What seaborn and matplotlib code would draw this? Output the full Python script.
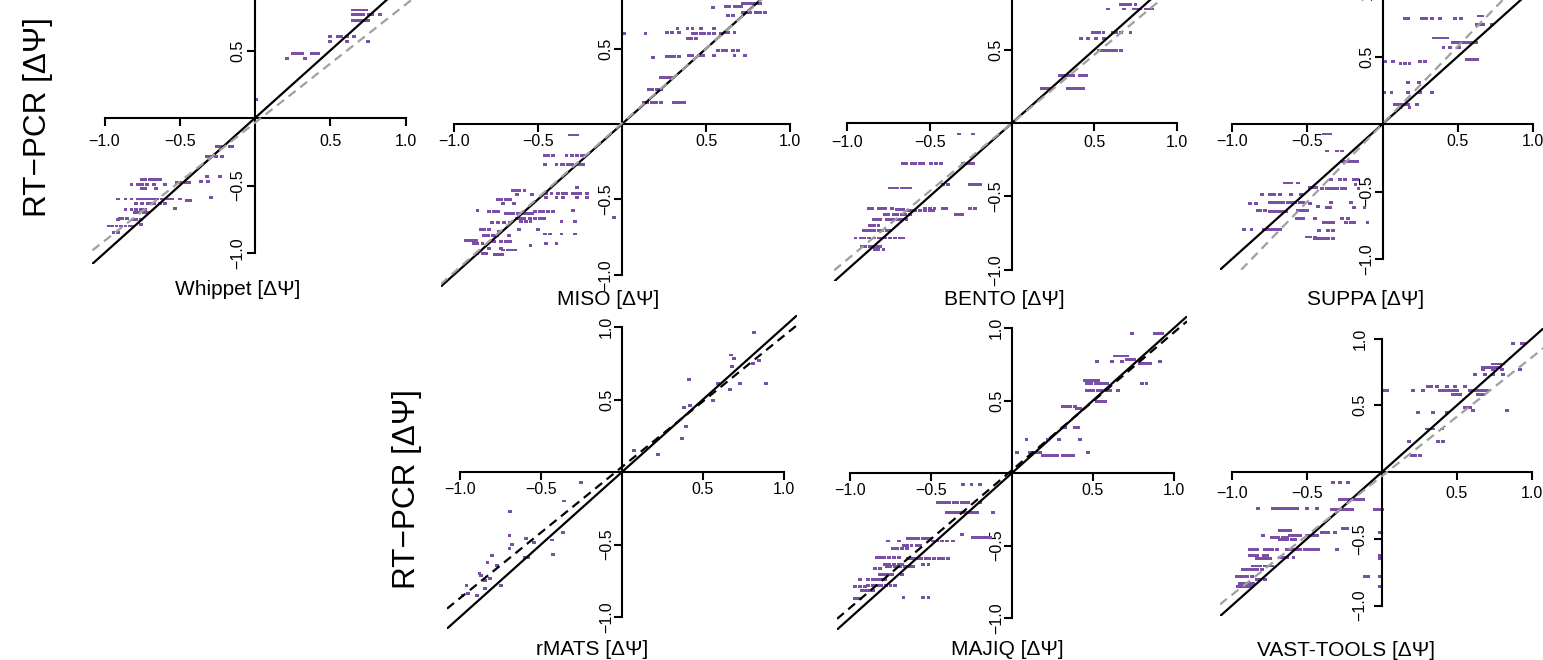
import matplotlib
matplotlib.use("Agg")
import matplotlib.pyplot as plt
from matplotlib.path import Path
from matplotlib.markers import MarkerStyle
import pandas as pd
import seaborn as sns

# ---------------------------------------------------------------------------
# Data: RT-PCR dPSI (y) against each tool's dPSI (x).
# Rows are grouped by RT-PCR value: (y, [x values measured at that y]).
# ---------------------------------------------------------------------------
whippet_rows = [
    (0.80, [0.65, 0.67, 0.69, 0.72, 0.74]),
    (0.765, [0.65, 0.67, 0.70, 0.72, 0.76, 0.78, 0.83]),
    (0.72, [0.65, 0.67, 0.69, 0.71, 0.73, 0.75]),
    (0.605, [0.50, 0.55, 0.57, 0.61, 0.66]),
    (0.57, [0.50, 0.61, 0.75]),
    (0.48, [0.25, 0.27, 0.29, 0.31, 0.38, 0.40, 0.42]),
    (0.44, [0.215, 0.33]),
    (0.14, [0.01]),
    (-0.21, [-0.25, -0.23, -0.21, -0.17, -0.15]),
    (-0.285, [-0.32, -0.30, -0.26, -0.22]),
    (-0.43, [-0.32, -0.23]),
    (-0.47, [-0.36, -0.31]),
    (-0.48, [-0.52, -0.50, -0.46, -0.44]),
    (-0.455, [-0.75, -0.73, -0.70, -0.68, -0.65, -0.63]),
    (-0.49, [-0.82, -0.78, -0.75, -0.72, -0.67, -0.60]),
    (-0.52, [-0.75, -0.73, -0.66]),
    (-0.59, [-0.29]),
    (-0.60, [-0.91, -0.86, -0.82, -0.78, -0.76, -0.74, -0.72, -0.70, -0.68,
             -0.65, -0.62, -0.58, -0.55, -0.50]),
    (-0.61, [-0.45, -0.43]),
    (-0.635, [-0.79, -0.75, -0.71, -0.69, -0.67, -0.63, -0.60]),
    (-0.667, [-0.53]),
    (-0.675, [-0.86, -0.82, -0.79, -0.76, -0.73]),
    (-0.70, [-0.80, -0.78, -0.74, -0.71]),
    (-0.745, [-0.90, -0.88, -0.85]),
    (-0.755, [-0.91, -0.81, -0.79, -0.76]),
    (-0.79, [-0.76]),
    (-0.80, [-0.97, -0.95, -0.92, -0.89, -0.86, -0.83, -0.81]),
    (-0.845, [-0.94, -0.91]),
]

miso_rows = [
    (0.80, [0.72, 0.74, 0.76, 0.78, 0.80, 0.82]),
    (0.78, [0.62, 0.64, 0.67, 0.69, 0.71]),
    (0.775, [0.54]),
    (0.74, [0.72, 0.74, 0.76, 0.80, 0.82, 0.85]),
    (0.72, [0.63, 0.66]),
    (0.635, [0.33, 0.39, 0.42, 0.47, 0.55]),
    (0.61, [0.27, 0.30, 0.34, 0.61, 0.63, 0.67]),
    (0.60, [0.01, 0.14, 0.42, 0.44, 0.47, 0.49, 0.52, 0.55, 0.59]),
    (0.57, [0.39, 0.41, 0.44]),
    (0.49, [0.57, 0.60, 0.62, 0.66, 0.69]),
    (0.455, [0.40, 0.42, 0.46, 0.48, 0.55, 0.67, 0.73]),
    (0.447, [0.27, 0.29, 0.31, 0.34]),
    (0.44, [0.185]),
    (0.31, [0.23, 0.25, 0.27, 0.29]),
    (0.226, [0.16, 0.18, 0.21, 0.23]),
    (0.144, [0.13, 0.15, 0.18, 0.20, 0.23, 0.31, 0.33, 0.35, 0.37]),
    (-0.073, [-0.31, -0.29, -0.27]),
    (-0.206, [-0.46, -0.44, -0.41, -0.33, -0.30, -0.27, -0.24, -0.22]),
    (-0.27, [-0.46, -0.39, -0.36, -0.35, -0.32, -0.30, -0.27, -0.25, -0.23]),
    (-0.42, [-0.27]),
    (-0.44, [-0.65, -0.63, -0.61, -0.58]),
    (-0.46, [-0.45, -0.42, -0.38, -0.35, -0.33, -0.29, -0.27, -0.25, -0.21]),
    (-0.47, [-0.625, -0.535]),
    (-0.487, [-0.45, -0.39, -0.35, -0.27, -0.21]),
    (-0.50, [-0.74, -0.72, -0.69, -0.665]),
    (-0.527, [-0.71, -0.645]),
    (-0.577, [-0.86, -0.29]),
    (-0.58, [-0.79, -0.76, -0.74, -0.52, -0.49, -0.47, -0.44, -0.41]),
    (-0.597, [-0.69, -0.67, -0.65, -0.62, -0.60, -0.58, -0.56, -0.535]),
    (-0.62, [-0.05]),
    (-0.626, [-0.625, -0.60, -0.58, -0.55, -0.52, -0.49, -0.465]),
    (-0.648, [-0.60, -0.57, -0.545, -0.36, -0.28]),
    (-0.655, [-0.775, -0.74, -0.70, -0.665]),
    (-0.70, [-0.84, -0.82, -0.79, -0.615, -0.50]),
    (-0.715, [-0.73]),
    (-0.73, [-0.46, -0.43, -0.36, -0.28]),
    (-0.737, [-0.82, -0.80, -0.77, -0.745, -0.675]),
    (-0.774, [-0.93, -0.91, -0.89, -0.87]),
    (-0.78, [-0.76, -0.72, -0.69, -0.665]),
    (-0.79, [-0.45, -0.39]),
    (-0.796, [-0.88, -0.86, -0.83]),
    (-0.805, [-0.545]),
    (-0.825, [-0.79, -0.72]),
    (-0.836, [-0.71, -0.68, -0.66, -0.635]),
    (-0.858, [-0.86, -0.83, -0.81]),
    (-0.863, [-0.755, -0.73, -0.715]),
]

bento_rows = [
    (0.807, [0.66, 0.68, 0.70, 0.72, 0.75]),
    (0.777, [0.585, 0.68, 0.74, 0.76, 0.78, 0.81, 0.83, 0.85]),
    (0.614, [0.49, 0.51, 0.53, 0.555, 0.61, 0.63, 0.66, 0.72]),
    (0.573, [0.42, 0.46, 0.51, 0.56]),
    (0.493, [0.53, 0.55, 0.57, 0.59, 0.61, 0.63, 0.66]),
    (0.323, [0.29, 0.31, 0.33, 0.35, 0.37, 0.41, 0.43, 0.45]),
    (0.232, [0.18, 0.20, 0.22, 0.24, 0.34, 0.36, 0.38, 0.40, 0.42, 0.43]),
    (-0.075, [-0.32, -0.235]),
    (-0.273, [-0.66, -0.64, -0.61, -0.59, -0.56, -0.54, -0.49, -0.46, -0.43]),
    (-0.277, [-0.30, -0.28, -0.26, -0.235]),
    (-0.42, [-0.42, -0.39, -0.255, -0.235, -0.215, -0.195]),
    (-0.443, [-0.74, -0.72, -0.70, -0.67, -0.645, -0.62]),
    (-0.58, [-0.87, -0.85, -0.81, -0.79, -0.77, -0.73, -0.53, -0.50, -0.47,
             -0.42, -0.40, -0.255, -0.225]),
    (-0.59, [-0.70, -0.68, -0.66]),
    (-0.595, [-0.63, -0.61, -0.59, -0.56, -0.53, -0.50, -0.48]),
    (-0.625, [-0.77, -0.75, -0.72, -0.70, -0.67, -0.65, -0.62, -0.34, -0.32, -0.30]),
    (-0.655, [-0.76, -0.74, -0.72, -0.69, -0.67, -0.64]),
    (-0.66, [-0.84, -0.82, -0.80]),
    (-0.70, [-0.86, -0.84, -0.81]),
    (-0.734, [-0.90, -0.88, -0.86, -0.84, -0.81, -0.79, -0.76, -0.74]),
    (-0.784, [-0.95, -0.92, -0.90, -0.87, -0.84, -0.81, -0.79, -0.77, -0.74,
              -0.71, -0.68, -0.66]),
    (-0.84, [-0.91, -0.89, -0.86, -0.84, -0.82, -0.80]),
    (-0.864, [-0.83, -0.81, -0.78]),
]

suppa_rows = [
    (0.80, [0.64, 0.665]),
    (0.778, [0.15, 0.17, 0.26, 0.29, 0.33, 0.38, 0.48, 0.52]),
    (0.74, [0.63, 0.65, 0.67, 0.73]),
    (0.637, [0.34, 0.36, 0.38, 0.41, 0.43]),
    (0.607, [0.47, 0.49, 0.51, 0.53, 0.55, 0.57, 0.59, 0.62]),
    (0.57, [0.405, 0.45, 0.51]),
    (0.48, [0.56, 0.58, 0.60, 0.63]),
    (0.46, [0.02, 0.07, 0.25, 0.28]),
    (0.45, [0.12, 0.15, 0.18]),
    (0.31, [0.17, 0.24]),
    (0.23, [0.01, 0.06, 0.17, 0.25, 0.33]),
    (0.148, [0.085, 0.11, 0.13, 0.15, 0.17, 0.23]),
    (0.12, [0.12, 0.18]),
    (-0.074, [-0.39, -0.37, -0.35]),
    (-0.20, [-0.37, -0.30, -0.27]),
    (-0.277, [-0.27, -0.25, -0.23, -0.21, -0.19, -0.17]),
    (-0.41, [-0.34, -0.28, -0.25, -0.19, -0.17]),
    (-0.437, [-0.65, -0.63, -0.61, -0.56]),
    (-0.45, [-0.18]),
    (-0.467, [-0.48, -0.46, -0.44]),
    (-0.48, [-0.40, -0.37, -0.35, -0.33, -0.30, -0.27, -0.25, -0.16]),
    (-0.52, [-0.80, -0.75, -0.72, -0.68, -0.61, -0.54]),
    (-0.58, [-0.75, -0.73, -0.71, -0.68, -0.66, -0.63, -0.61, -0.58, -0.55,
             -0.53, -0.34, -0.21]),
    (-0.59, [-0.88, -0.84, -0.48]),
    (-0.61, [-0.43]),
    (-0.62, [-0.37, -0.35, -0.19, -0.12]),
    (-0.64, [-0.83, -0.81, -0.78, -0.56, -0.54, -0.52, -0.50]),
    (-0.65, [-0.75, -0.73, -0.71, -0.68, -0.66, -0.64]),
    (-0.70, [-0.57, -0.55, -0.525, -0.45, -0.27, -0.23]),
    (-0.73, [-0.39, -0.37, -0.35, -0.33, -0.24, -0.21, -0.19, -0.10]),
    (-0.78, [-0.92, -0.87, -0.79, -0.77, -0.74, -0.72, -0.70, -0.68]),
    (-0.79, [-0.42, -0.36, -0.33]),
    (-0.837, [-0.50, -0.48, -0.45]),
    (-0.85, [-0.45, -0.43, -0.41, -0.38, -0.36, -0.33]),
]

rmats_x = [0.817, 0.673, 0.693, 0.681, 0.81, 0.846, 0.887, 0.728, 0.667, 0.595,
           0.56, 0.416, 0.385, 0.42, 0.395, 0.368, 0.224, 0.076, -0.253, -0.358,
           -0.691, -0.695, -0.677, -0.695, -0.593, -0.541, -0.43, -0.366, -0.424,
           -0.60, -0.58, -0.80, -0.83, -0.774, -0.88, -0.87, -0.815, -0.846,
           -0.747, -0.844, -0.96, -0.949, -0.897, -0.984]
rmats_y = [0.963, 0.807, 0.784, 0.726, 0.75, 0.772, 0.611, 0.611, 0.57, 0.611,
           0.49, 0.64, 0.446, 0.457, 0.317, 0.234, 0.124, 0.149, -0.071, -0.20,
           -0.271, -0.44, -0.499, -0.526, -0.457, -0.485, -0.469, -0.416, -0.572,
           -0.59, -0.59, -0.577, -0.623, -0.648, -0.70, -0.715, -0.733, -0.745,
           -0.78, -0.805, -0.786, -0.837, -0.855, -0.855]

majiq_rows = [
    (0.963, [0.743, 0.883, 0.905, 0.924]),
    (0.807, [0.636, 0.66, 0.685, 0.708]),
    (0.786, [0.708, 0.73, 0.755, 0.79]),
    (0.772, [0.523, 0.615, 0.677, 0.914]),
    (0.756, [0.79, 0.81, 0.83, 0.852]),
    (0.641, [0.45, 0.47, 0.49, 0.51, 0.533]),
    (0.614, [0.461, 0.49, 0.52, 0.54, 0.56, 0.584, 0.80, 0.83]),
    (0.572, [0.461, 0.48, 0.50, 0.53, 0.55, 0.58, 0.605, 0.656]),
    (0.49, [0.523, 0.55, 0.574]),
    (0.457, [0.317, 0.34, 0.36, 0.389]),
    (0.448, [0.40, 0.42]),
    (0.315, [0.327, 0.389, 0.41]),
    (0.228, [0.09, 0.22, 0.292, 0.42]),
    (0.14, [0.029, 0.111, 0.13, 0.15, 0.173, 0.471]),
    (0.124, [0.19, 0.21, 0.235, 0.255, 0.276, 0.317, 0.34, 0.36, 0.379]),
    (-0.078, [-0.30, -0.25, -0.198]),
    (-0.202, [-0.455, -0.43, -0.41, -0.39, -0.36, -0.34, -0.31, -0.29, -0.27, -0.198]),
    (-0.271, [-0.403, -0.38, -0.36, -0.34, -0.321, -0.30, -0.28, -0.26, -0.24,
              -0.218, -0.115]),
    (-0.423, [-0.31]),
    (-0.444, [-0.239, -0.22, -0.20, -0.18, -0.16, -0.136]),
    (-0.455, [-0.64, -0.62, -0.60, -0.58, -0.55, -0.53, -0.506]),
    (-0.469, [-0.763, -0.70, -0.486, -0.46, -0.43, -0.40, -0.362]),
    (-0.497, [-0.67, -0.65, -0.62, -0.59, -0.568]),
    (-0.524, [-0.733, -0.71, -0.68, -0.65]),
    (-0.582, [-0.835, -0.81, -0.79, -0.76, -0.73, -0.70]),
    (-0.589, [-0.64, -0.62, -0.60, -0.58, -0.56, -0.53, -0.51, -0.48, -0.45,
              -0.424, -0.393]),
    (-0.63, [-0.784, -0.76, -0.73, -0.70, -0.681, -0.547, -0.516]),
    (-0.646, [-0.774, -0.75, -0.72, -0.69, -0.66, -0.635, -0.609]),
    (-0.657, [-0.846, -0.815]),
    (-0.70, [-0.815, -0.79, -0.765, -0.743, -0.681]),
    (-0.733, [-0.938, -0.887, -0.86, -0.835, -0.81, -0.784]),
    (-0.779, [-0.887, -0.86, -0.835, -0.81, -0.78, -0.75, -0.722]),
    (-0.784, [-0.969, -0.94, -0.907]),
    (-0.81, [-0.928, -0.90, -0.876, -0.856]),
    (-0.857, [-0.67, -0.547, -0.516]),
    (-0.864, [-0.969, -0.95, -0.938]),
]

vast_rows = [
    (0.964, [0.876, 0.93, 0.953]),
    (0.809, [0.742, 0.765, 0.787, 0.809]),
    (0.784, [0.676, 0.70, 0.72, 0.745, 0.765, 0.787]),
    (0.769, [0.676, 0.742, 0.798, 0.92]),
    (0.727, [0.62, 0.687, 0.742, 0.809]),
    (0.644, [0.309, 0.33, 0.364, 0.431, 0.487, 0.553]),
    (0.614, [0.009, 0.031, 0.209, 0.276, 0.387, 0.41, 0.43, 0.455, 0.476, 0.498,
             0.587, 0.61, 0.63, 0.655, 0.676, 0.698]),
    (0.577, [0.476, 0.498, 0.52, 0.642, 0.66, 0.676]),
    (0.484, [0.553, 0.57, 0.587]),
    (0.464, [0.609, 0.831]),
    (0.449, [0.242, 0.342, 0.431]),
    (0.322, [0.298, 0.32, 0.342, 0.398]),
    (0.232, [0.182, 0.376, 0.409]),
    (0.127, [0.198, 0.22, 0.253]),
    (-0.077, [-0.324, -0.28, -0.224]),
    (-0.205, [-0.28, -0.26, -0.24, -0.22, -0.19, -0.17, -0.146, -0.124]),
    (-0.272, [-0.824, -0.724, -0.70, -0.68, -0.656, -0.63, -0.61, -0.59, -0.569,
              -0.50, -0.436]),
    (-0.28, [-0.336, -0.31, -0.29, -0.27, -0.245, -0.224, -0.202, -0.047,
             -0.025, -0.002]),
    (-0.422, [-0.258, -0.236]),
    (-0.44, [-0.68, -0.657, -0.635, -0.613]),
    (-0.452, [-0.013]),
    (-0.455, [-0.402, -0.38, -0.358, -0.313]),
    (-0.475, [-0.791, -0.613, -0.59, -0.569, -0.547, -0.502, -0.48, -0.458, -0.436]),
    (-0.494, [-0.735, -0.713, -0.69, -0.66, -0.636]),
    (-0.509, [-0.68, -0.657, -0.635, -0.60, -0.58]),
    (-0.58, [-0.302]),
    (-0.584, [-0.88, -0.857, -0.835, -0.78, -0.757, -0.735, -0.702, -0.636,
              -0.614, -0.592, -0.569, -0.547, -0.513, -0.49, -0.468, -0.446, -0.424]),
    (-0.622, [-0.88, -0.857, -0.835, -0.79, -0.769, -0.013]),
    (-0.639, [-0.68, -0.657, -0.635, -0.59]),
    (-0.647, [-0.013]),
    (-0.649, [-0.836, -0.813, -0.79, -0.769, -0.747]),
    (-0.704, [-0.858, -0.836, -0.813, -0.78, -0.758, -0.736]),
    (-0.729, [-0.924, -0.90, -0.88, -0.857, -0.835, -0.802]),
    (-0.784, [-0.969, -0.947, -0.925, -0.90, -0.869, -0.113, -0.091, -0.013]),
    (-0.804, [-0.836, -0.813, -0.78]),
    (-0.834, [-0.947, -0.925, -0.90, -0.88, -0.858]),
    (-0.859, [-0.958, -0.936, -0.914, -0.89, -0.869, -0.013]),
]

# Linear fits (slope, intercept) of RT-PCR on each tool
tool_names = ["Whippet", "MISO", "BENTO", "SUPPA", "rMATS", "MAJIQ", "VAST-TOOLS"]
fit_slopes = [0.875, 0.99, 0.93, 1.15, 0.905, 0.95, 0.89]
fit_intercepts = [-0.035, 0.005, 0.0, 0.0, 0.035, 0.02, -0.03]

tick_values = [-1.0, -0.5, 0.5, 1.0]
tick_labels = ["\u22121.0", "\u22120.5", "0.5", "1.0"]
x_label_template = "{} [\u0394\u03a8]"
y_label_text = "RT\u2212PCR [\u0394\u03a8]"


def rows_to_frame(rows):
    xs = [x for y, row in rows for x in row]
    ys = [y for y, row in rows for _ in row]
    return pd.DataFrame({"x": xs, "y": ys})


frames = [
    rows_to_frame(whippet_rows),
    rows_to_frame(miso_rows),
    rows_to_frame(bento_rows),
    rows_to_frame(suppa_rows),
    pd.DataFrame({"x": rmats_x, "y": rmats_y}),
    rows_to_frame(majiq_rows),
    rows_to_frame(vast_rows),
]

# ---------------------------------------------------------------------------
# Styling and layout
# ---------------------------------------------------------------------------
sns.set_style("ticks")
plt.rcParams["font.family"] = ["Liberation Sans", "DejaVu Sans"]
plt.rcParams["text.color"] = "black"
plt.rcParams["axes.labelcolor"] = "black"

W, H = 1543, 660
fig = plt.figure(figsize=(W / 100, H / 100), dpi=100)

PURPLE = "#7A4FA6"
LIM = 1.08

# origin pixel (ox, oy), pixels per unit (sx, sy), tick pads (x, y) in points,
# regression line colour, x label anchor (pixels, baseline)
panel_layout = [
    dict(o=(255, 118), s=(150.5, 135.0), pads=(6.0, 1.2), fit="#A0A0A0", lab=(238, 295)),
    dict(o=(622, 124), s=(168.0, 150.7), pads=(2.0, 0.5), fit="#A0A0A0", lab=(608, 305)),
    dict(o=(1012, 123), s=(164.7, 146.7), pads=(2.8, 0.8), fit="#A0A0A0", lab=(1004, 305)),
    dict(o=(1382.5, 124), s=(150.5, 135.0), pads=(2.0, 0.2), fit="#A0A0A0", lab=(1366, 305)),
    dict(o=(622, 472), s=(162.0, 145.0), pads=(1.5, 0.2), fit="black", lab=(592, 655)),
    dict(o=(1012, 473), s=(162.0, 145.0), pads=(1.8, 0.2), fit="black", lab=(1007, 655)),
    dict(o=(1382, 472), s=(150.0, 133.5), pads=(4.6, 4.8), fit="#A0A0A0", lab=(1346, 656)),
]

dash_marker = MarkerStyle(Path([(-1, -0.78), (1, -0.78), (1, 0.78), (-1, 0.78), (-1, -0.78)],
                               closed=True))

for name, df, slope, icpt, lay in zip(tool_names, frames, fit_slopes,
                                      fit_intercepts, panel_layout):
    ox, oy = lay["o"]
    sx, sy = lay["s"]
    left = (ox - LIM * sx) / W
    bottom = 1 - (oy + LIM * sy) / H
    ax = fig.add_axes([left, bottom, 2 * LIM * sx / W, 2 * LIM * sy / H])
    ax.patch.set_alpha(0)

    sns.scatterplot(data=df, x="x", y="y", ax=ax, marker=dash_marker, s=7.5,
                    color=PURPLE, edgecolor="none", linewidth=0, zorder=2,
                    legend=False)
    ax.axline((0, 0), slope=1.0, color="black", lw=1.6, zorder=3)
    ax.axline((0, icpt), slope=slope, color=lay["fit"], lw=1.6,
              dashes=(4.0, 2.6), zorder=3)

    ax.set_xlim(-LIM, LIM)
    ax.set_ylim(-LIM, LIM)
    for side in ("top", "right"):
        ax.spines[side].set_visible(False)
    for side in ("left", "bottom"):
        ax.spines[side].set_position("zero")
        ax.spines[side].set_bounds(-1, 1)
        ax.spines[side].set_linewidth(1.5)
        ax.spines[side].set_color("black")

    ax.set_xticks(tick_values)
    ax.set_xticklabels(tick_labels)
    ax.set_yticks(tick_values)
    ax.set_yticklabels(tick_labels)
    ax.tick_params(axis="both", direction="out", length=5.5, width=1.5,
                   labelsize=11.5, colors="black")
    ax.tick_params(axis="x", pad=lay["pads"][0])
    ax.tick_params(axis="y", pad=lay["pads"][1], labelrotation=90)
    for lbl in ax.get_yticklabels():
        lbl.set_va("center")
    ax.set_xlabel("")
    ax.set_ylabel("")

    lx, ly = lay["lab"]
    fig.text(lx / W, 1 - ly / H, x_label_template.format(name), ha="center",
             va="baseline", fontsize=15, color="black")

# shared y-axis titles for the two rows
for (yx, yy) in [(38, 117), (407, 489)]:
    fig.text(yx / W, 1 - yy / H, y_label_text, rotation=90, ha="center",
             va="center", fontsize=22.7, color="black")

fig.savefig("out.png", dpi=100)
